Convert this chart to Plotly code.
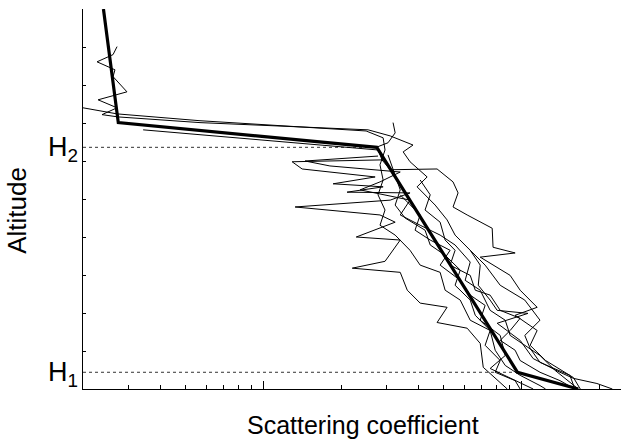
import math
import plotly.graph_objects as go

# ---- data (x: scattering coefficient, log axis; y: altitude) ----
model_x = [0.24, 0.274, 2.75, 9.65, 16.6]
model_y = [10.0, 7.01, 6.36, 0.44, 0.0]

H1 = 0.44
H2 = 6.36

p1_x = [0.271, 0.2615, 0.2267, 0.266, 0.2615, 0.296, 0.2288, 0.271, 0.237, 0.2734, 0.568, 2.546, 3.10, 3.80, 3.48, 3.70, 4.31, 3.94, 4.63, 5.15, 5.53, 6.33, 6.92, 6.80, 7.56, 8.05, 10.6, 8.05, 9.88, 11.1, 14.1, 15.9, 19.6, 22.5]
p1_y = [9.01, 8.80, 8.61, 8.40, 8.22, 7.82, 7.61, 7.40, 7.22, 7.16, 7.01, 6.82, 6.66, 6.42, 6.24, 5.98, 5.58, 5.32, 4.84, 4.45, 4.05, 3.65, 3.26, 2.73, 2.34, 2.07, 1.99, 1.73, 1.28, 0.80, 0.44, 0.28, 0.145, 0.0]

p2_x = [0.200, 0.271, 0.568, 1.161, 2.50, 2.91, 2.96, 2.83, 2.91, 2.78, 2.96, 2.83, 3.24, 3.70, 4.05, 4.84, 5.06, 5.79, 6.33, 7.56, 7.91, 8.65, 9.88, 11.8, 12.4]
p2_y = [7.40, 7.24, 7.06, 6.93, 6.79, 6.61, 6.29, 5.90, 5.50, 5.11, 4.71, 4.31, 4.05, 3.65, 3.26, 3.07, 2.60, 2.34, 1.81, 1.54, 1.02, 0.62, 0.36, 0.09, 0.0]

p3_x = [0.342, 1.269, 2.78, 2.91, 1.292, 1.413, 2.71, 1.863, 2.91, 2.11, 3.70, 3.10, 1.327, 2.83, 3.24, 2.29, 3.39, 2.96, 2.21, 3.39, 3.61, 4.05, 5.15, 4.71, 6.16, 6.92, 7.11, 8.81]
p3_y = [6.82, 6.48, 6.29, 6.03, 5.98, 5.79, 5.58, 5.40, 5.32, 5.18, 5.16, 4.97, 4.79, 4.58, 4.39, 4.00, 3.92, 3.36, 3.18, 3.07, 2.60, 2.26, 2.15, 1.75, 1.60, 1.20, 0.57, 0.0]

p4_x = [3.18, 3.24, 3.04, 2.76, 2.88, 3.10, 4.71, 5.43, 5.68, 5.43, 6.16, 7.70, 7.76, 9.45, 6.92, 9.04, 9.88, 11.5, 9.45, 11.5, 10.8, 12.4, 15.9, 16.9]
p4_y = [7.01, 6.74, 6.48, 6.37, 6.03, 5.77, 5.79, 5.45, 5.16, 4.79, 4.58, 4.23, 3.73, 3.58, 3.47, 2.99, 2.60, 2.15, 1.94, 1.54, 1.15, 0.75, 0.30, 0.0]

p5_x = [3.04, 3.24, 3.39, 3.24, 3.54, 4.23, 4.43, 5.06, 5.79, 5.53, 6.33, 6.62, 7.56, 7.23, 8.27, 7.91, 9.45, 9.88]
p5_y = [6.16, 5.63, 5.24, 4.84, 4.50, 4.18, 3.79, 3.52, 3.13, 2.73, 2.34, 1.94, 1.54, 1.15, 0.75, 0.44, 0.22, 0.0]

p6_x = [3.39, 4.05, 3.87, 4.43, 5.29, 4.84, 5.79, 6.33, 7.23, 6.92, 8.27, 8.65, 7.56, 9.04, 11.1]
p6_y = [5.11, 4.58, 4.18, 3.92, 3.65, 3.26, 2.86, 2.47, 2.20, 1.81, 1.41, 0.88, 0.54, 0.28, 0.0]

p7_x = [4.05, 4.43, 4.23, 4.84, 5.06, 5.53, 5.29, 6.33, 6.62, 7.56, 8.27, 9.88, 9.04, 8.27, 9.45, 9.88, 11.8, 14.1, 16.1]
p7_y = [5.50, 5.11, 4.71, 4.39, 3.92, 3.65, 3.26, 2.99, 2.60, 2.47, 2.07, 1.86, 1.54, 1.28, 1.02, 0.75, 0.44, 0.22, 0.0]

p8_x = [6.33, 7.23, 8.27, 10.3, 11.8, 10.3, 10.8, 11.8, 15.4, 16.1]
p8_y = [3.65, 3.26, 2.73, 2.34, 1.81, 1.41, 1.07, 0.70, 0.36, 0.0]

p9_x = [2.78, 1.451, 1.81, 3.39, 2.83, 2.37, 3.70, 3.39, 4.05, 4.84, 5.53, 6.33, 6.05, 6.92, 7.56, 8.65, 9.04, 10.3, 11.8, 13.5, 16.6]
p9_y = [6.13, 6.00, 5.87, 5.71, 5.45, 5.24, 4.97, 4.58, 4.31, 4.05, 3.79, 3.34, 2.86, 2.60, 2.07, 1.81, 1.41, 1.15, 0.88, 0.49, 0.0]

profiles = [(p1_x, p1_y), (p2_x, p2_y), (p3_x, p3_y), (p4_x, p4_y), (p5_x, p5_y),
            (p6_x, p6_y), (p7_x, p7_y), (p8_x, p8_y), (p9_x, p9_y)]

x_min, x_max = 0.2, 24.3
y_min, y_max = 0.0, 10.0
major_x = [1, 10]
minor_x = [0.3, 0.4, 0.5, 0.6, 0.7, 0.8, 0.9, 2, 3, 4, 5, 6, 7, 8, 9, 20]
y_ticks = [1, 2, 3, 4, 5, 6, 7, 8, 9]

fig = go.Figure()

# reference levels
fig.add_trace(go.Scatter(x=[x_min, model_x[2]], y=[H2, H2], mode="lines",
                         line=dict(color="#333333", width=1, dash="dot"), hoverinfo="skip"))
fig.add_trace(go.Scatter(x=[x_min, model_x[3]], y=[H1, H1], mode="lines",
                         line=dict(color="#333333", width=1, dash="dot"), hoverinfo="skip"))

for px, py in profiles:
    fig.add_trace(go.Scatter(x=px, y=py, mode="lines",
                             line=dict(color="black", width=1)))

fig.add_trace(go.Scatter(x=model_x, y=model_y, mode="lines",
                         line=dict(color="black", width=3.2)))

font_family = "Liberation Sans, Arial, sans-serif"

fig.update_layout(
    width=621, height=441,
    margin=dict(l=83, r=0, t=9, b=52),
    paper_bgcolor="white", plot_bgcolor="white",
    showlegend=False,
    font=dict(family=font_family, color="black"),
    xaxis=dict(type="log", range=[math.log10(x_min), math.log10(x_max)],
               showgrid=False, zeroline=False,
               showline=True, linecolor="black", linewidth=1.2,
               ticks="inside", tickmode="array", tickvals=major_x, ticklen=8,
               tickcolor="black", tickwidth=1, showticklabels=False,
               minor=dict(ticks="inside", tickmode="array", tickvals=minor_x,
                          ticklen=4, tickcolor="black", tickwidth=1, showgrid=False)),
    yaxis=dict(range=[y_min, y_max], showgrid=False, zeroline=False,
               showline=True, linecolor="black", linewidth=1.2,
               ticks="inside", tickmode="array", tickvals=y_ticks, ticklen=3,
               tickcolor="black", tickwidth=1, showticklabels=False),
    annotations=[
        dict(text="H<sub>2</sub>", xref="paper", yref="y", x=-0.006, y=H2,
             xanchor="right", yanchor="middle", yshift=-2, showarrow=False,
             font=dict(size=27, family=font_family)),
        dict(text="H<sub>1</sub>", xref="paper", yref="y", x=-0.006, y=H1,
             xanchor="right", yanchor="middle", yshift=-2, showarrow=False,
             font=dict(size=27, family=font_family)),
        dict(text="Scattering coefficient", xref="paper", yref="paper",
             x=0.52, y=-0.095, xanchor="center", yanchor="middle", showarrow=False,
             font=dict(size=25, family=font_family)),
        dict(text="Altitude", xref="paper", yref="paper", textangle=-90,
             x=-0.122, y=0.47, xanchor="center", yanchor="middle", showarrow=False,
             font=dict(size=26, family=font_family)),
    ],
)

fig.write_html("out.html", config={"displayModeBar": False},
               post_script="document.body.style.margin='0px';document.body.style.padding='0px';")
